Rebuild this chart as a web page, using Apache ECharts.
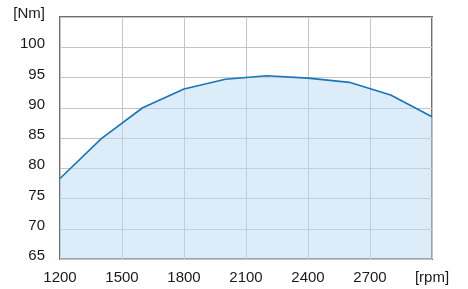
<!DOCTYPE html>
<html><head><meta charset="utf-8">
<script src="https://cdn.jsdelivr.net/npm/echarts@6/dist/echarts.min.js"></script>
<style>html,body{margin:0;padding:0;background:#fff}#c{width:468px;height:289px}</style>
</head><body><div id="c"></div>
<script>
const rpm = [1200, 1400, 1600, 1800, 2000, 2200, 2400, 2600, 2800, 3000];
const torque = [78.3, 84.9, 90.0, 93.1, 94.7, 95.3, 94.9, 94.2, 92.1, 88.5];
const xUnit = '[rpm]';
const yUnit = '[Nm]';

const chart = echarts.init(document.getElementById('c'), null, {renderer: 'canvas'});
chart.setOption({
  animation: false,
  grid: {left: 60, right: 36, top: 17, bottom: 30, show: true, borderColor: '#6e6e73', borderWidth: 2, backgroundColor: 'transparent'},
  xAxis: {
    type: 'value', min: 1200, max: 3000, interval: 300,
    axisLine: {show: false}, axisTick: {show: false},
    splitLine: {show: true, lineStyle: {color: '#c4c4c6', width: 1}},
    axisLabel: {color: '#1a1a1a', fontSize: 15, fontFamily: 'Liberation Sans, Arial, sans-serif', margin: 11,
      formatter: v => v === 3000 ? xUnit : String(v)}
  },
  yAxis: {
    type: 'value', min: 65, max: 105, interval: 5,
    axisLine: {show: false}, axisTick: {show: false},
    splitLine: {show: true, lineStyle: {color: '#c4c4c6', width: 1}},
    axisLabel: {color: '#1a1a1a', fontSize: 15, fontFamily: 'Liberation Sans, Arial, sans-serif', margin: 15,
      verticalAlign: 'bottom', lineHeight: 6,
      formatter: v => v === 105 ? yUnit : String(v)}
  },
  series: [{
    type: 'line',
    data: rpm.map((r, i) => [r, torque[i]]),
    symbol: 'none',
    lineStyle: {color: '#1a75b8', width: 1.6},
    areaStyle: {color: '#b9d9f3', opacity: 0.5},
    z: 1
  }]
});
</script></body></html>
